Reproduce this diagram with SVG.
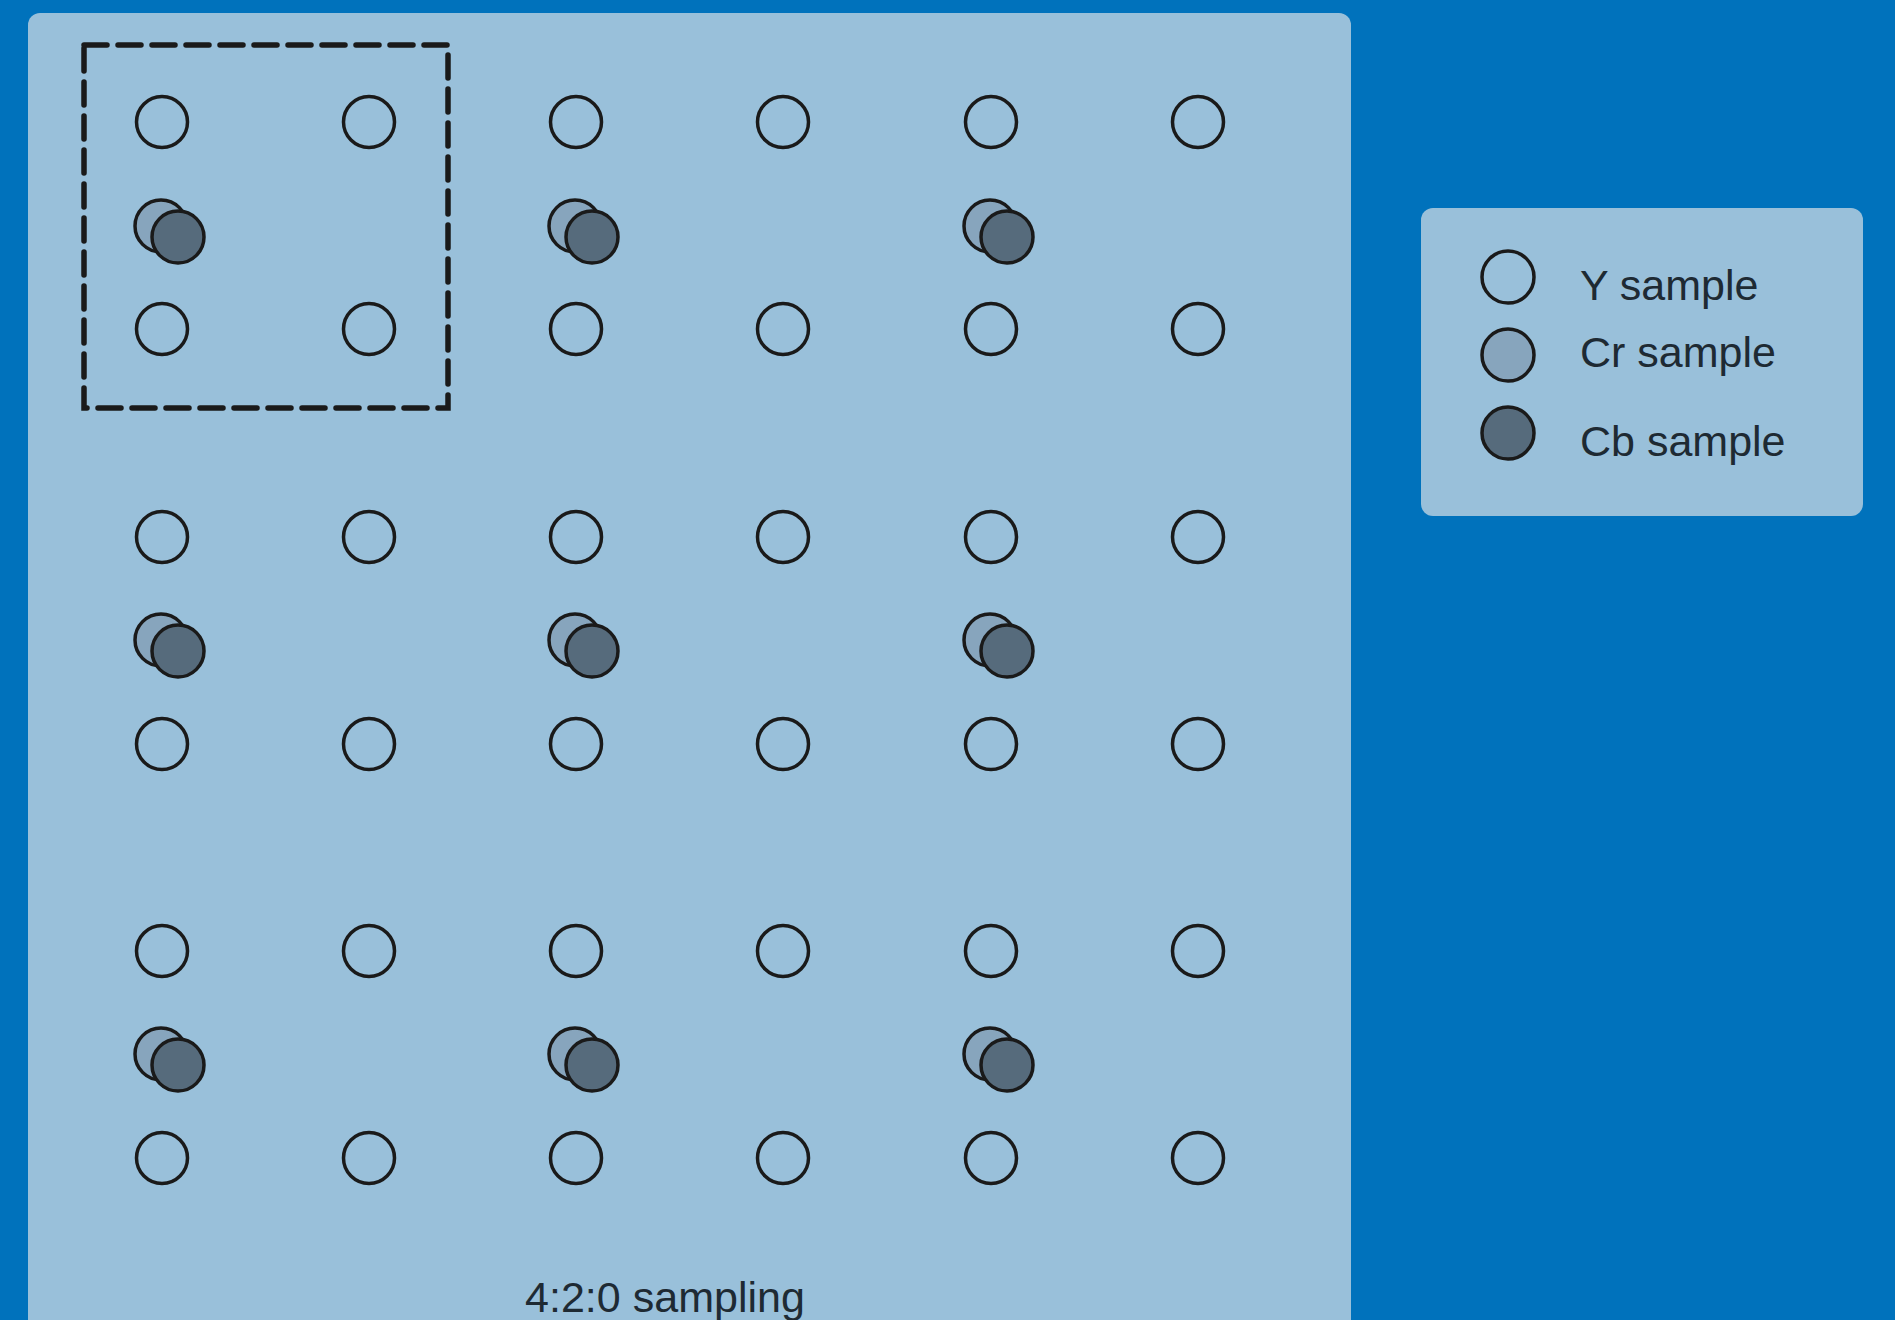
<svg xmlns="http://www.w3.org/2000/svg" width="1895" height="1320" viewBox="0 0 1895 1320">
<defs>
<style>
.panel{fill:#99C0DA}
.y{fill:none;stroke:#1a1a1a;stroke-width:3.5}
.cr{fill:#87A5BD;stroke:#1a1a1a;stroke-width:3.5}
.cb{fill:#566B7C;stroke:#1a1a1a;stroke-width:3.5}
.lbl{font-family:"Liberation Sans",Arial,sans-serif;font-size:43px;fill:#1e2a33}
</style>
<circle id="ys" r="25.5" class="y"/>
<g id="crcb"><circle r="26" class="cr"/><circle cx="17" cy="11" r="26" class="cb"/></g>
</defs>
<rect x="0" y="0" width="1895" height="1320" fill="#0072BC"/>
<rect id="main-panel" class="panel" x="28" y="13" width="1323" height="1330" rx="12"/>
<rect id="legend-panel" class="panel" x="1421" y="208" width="442" height="308" rx="12"/>
<rect id="block" x="84" y="45" width="364" height="363" fill="none" stroke="#1a1a1a" stroke-width="5.5" stroke-dasharray="23 11" stroke-linecap="round"/>
<g id="y-samples">
<use href="#ys" x="162" y="122"/><use href="#ys" x="369" y="122"/><use href="#ys" x="576" y="122"/><use href="#ys" x="783" y="122"/><use href="#ys" x="991" y="122"/><use href="#ys" x="1198" y="122"/>
<use href="#ys" x="162" y="329"/><use href="#ys" x="369" y="329"/><use href="#ys" x="576" y="329"/><use href="#ys" x="783" y="329"/><use href="#ys" x="991" y="329"/><use href="#ys" x="1198" y="329"/>
<use href="#ys" x="162" y="537"/><use href="#ys" x="369" y="537"/><use href="#ys" x="576" y="537"/><use href="#ys" x="783" y="537"/><use href="#ys" x="991" y="537"/><use href="#ys" x="1198" y="537"/>
<use href="#ys" x="162" y="744"/><use href="#ys" x="369" y="744"/><use href="#ys" x="576" y="744"/><use href="#ys" x="783" y="744"/><use href="#ys" x="991" y="744"/><use href="#ys" x="1198" y="744"/>
<use href="#ys" x="162" y="951"/><use href="#ys" x="369" y="951"/><use href="#ys" x="576" y="951"/><use href="#ys" x="783" y="951"/><use href="#ys" x="991" y="951"/><use href="#ys" x="1198" y="951"/>
<use href="#ys" x="162" y="1158"/><use href="#ys" x="369" y="1158"/><use href="#ys" x="576" y="1158"/><use href="#ys" x="783" y="1158"/><use href="#ys" x="991" y="1158"/><use href="#ys" x="1198" y="1158"/>
</g>
<g id="chroma-samples">
<use href="#crcb" x="161" y="226"/><use href="#crcb" x="575" y="226"/><use href="#crcb" x="990" y="226"/>
<use href="#crcb" x="161" y="640"/><use href="#crcb" x="575" y="640"/><use href="#crcb" x="990" y="640"/>
<use href="#crcb" x="161" y="1054"/><use href="#crcb" x="575" y="1054"/><use href="#crcb" x="990" y="1054"/>
</g>
<g id="legend">
<circle cx="1508" cy="277" r="26" class="y"/>
<circle cx="1508" cy="355" r="26" class="cr"/>
<circle cx="1508" cy="433" r="26" class="cb"/>
<text class="lbl" x="1580" y="300">Y sample</text>
<text class="lbl" x="1580" y="367">Cr sample</text>
<text class="lbl" x="1580" y="456">Cb sample</text>
</g>
<text id="caption" class="lbl" x="525" y="1312" textLength="280" lengthAdjust="spacingAndGlyphs">4:2:0 sampling</text>
</svg>
